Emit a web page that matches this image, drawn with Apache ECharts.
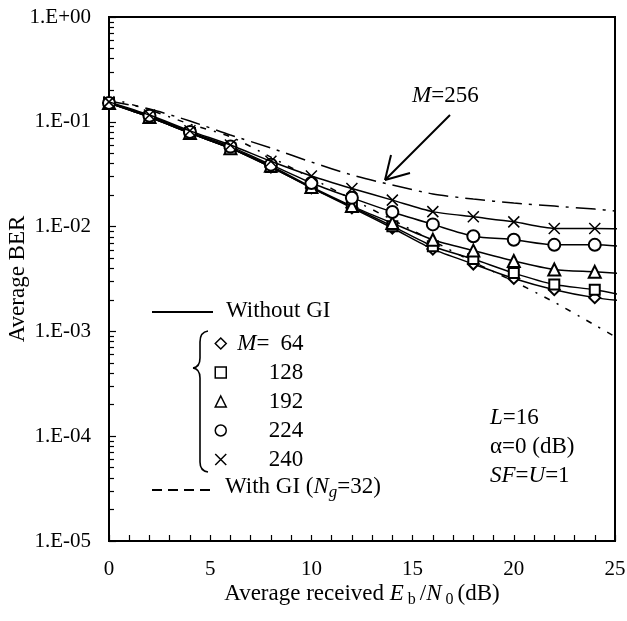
<!DOCTYPE html>
<html>
<head>
<meta charset="utf-8">
<script src="https://cdn.jsdelivr.net/npm/echarts@6/dist/echarts.min.js"></script>
<style>html,body{margin:0;padding:0;background:#fff;}#c{width:627px;height:621px;}</style>
</head>
<body>
<div id="c"></div>
<script>
// ---- data ----
const xMarked = [0, 2, 4, 6, 8, 10, 12, 14, 16, 18, 20, 22, 24, 26];
const ber64  = [0.151, 0.111, 0.078, 0.056, 0.037, 0.0234, 0.0151, 0.0097, 0.0061, 0.0044, 0.0032, 0.0025, 0.0021, 0.0019];
const ber128 = [0.151, 0.111, 0.078, 0.056, 0.037, 0.0234, 0.0154, 0.0101, 0.0065, 0.0049, 0.0036, 0.0028, 0.0025, 0.0021];
const ber192 = [0.151, 0.111, 0.078, 0.056, 0.038, 0.0239, 0.0157, 0.0108, 0.0075, 0.0059, 0.0047, 0.0039, 0.0037, 0.0035];
const ber224 = [0.151, 0.114, 0.080, 0.058, 0.039, 0.0261, 0.0188, 0.0138, 0.0105, 0.0081, 0.0075, 0.0067, 0.0067, 0.0063];
const ber240 = [0.155, 0.116, 0.082, 0.060, 0.042, 0.0304, 0.0231, 0.0179, 0.0139, 0.0124, 0.0111, 0.0096, 0.0096, 0.0095];
const xDash = [0, 2, 4, 6, 8, 10, 12, 14, 16, 18, 20, 22, 24, 25];
const ber256 = [0.158, 0.1325, 0.1018, 0.0748, 0.0562, 0.0413, 0.0311, 0.0249, 0.0205, 0.0183, 0.0168, 0.0157, 0.0147, 0.0141];
const berGI  = [0.169, 0.130, 0.095, 0.072, 0.046, 0.029, 0.0183, 0.0116, 0.0073, 0.0046, 0.0030, 0.0019, 0.00115, 0.00089];
const yDecades = [1e-5, 1e-4, 1e-3, 1e-2, 1e-1, 1];
const mLabels = ['64', '128', '192', '224', '240'];

const FONT = 'Liberation Serif';
const FS = 23;
const pairs = (xs, ys) => xs.map((x, i) => [x, ys[i]]);
const minorVals = [];
yDecades.slice(0, -1).forEach(d => { for (let k = 2; k <= 9; k++) minorVals.push(+(d * k).toPrecision(3)); });

const crossPath = 'path://M0,0L10,10M0,10L10,0';
const markers = ['emptyDiamond', 'emptyRect', 'emptyTriangle', 'emptyCircle', crossPath];
const sizes = [11, 10, 12, 12, 11];
const mData = [ber64, ber128, ber192, ber224, ber240];

const solidSeries = mData.map((d, i) => ({
  name: mLabels[i],
  type: 'line',
  data: pairs(xMarked, d),
  smooth: 0.25,
  symbol: markers[i],
  symbolSize: sizes[i],
  showSymbol: true,
  lineStyle: { color: '#000', width: 1.5 },
  itemStyle: { color: '#000', borderColor: '#000', borderWidth: 1.5 },
  z: 5 + i
}));

const richT = {
  n: { fontFamily: FONT, fontSize: FS, fill: '#000' },
  i: { fontFamily: FONT, fontSize: FS, fontStyle: 'italic', fill: '#000' }
};

const bz = (x1, y1, cx, cy, x2, y2) => ({ type: 'bezierCurve', shape: { x1, y1, cpx1: cx, cpy1: cy, x2, y2 }, style: { stroke: '#000', lineWidth: 1.6, fill: null } });
const ln = (x1, y1, x2, y2, w, dash) => ({ type: 'line', shape: { x1, y1, x2, y2 }, style: { stroke: '#000', lineWidth: w || 1.6, lineDash: dash || null } });

const option = {
  animation: false,
  backgroundColor: '#fff',
  textStyle: { fontFamily: FONT, color: '#000' },
  grid: { left: 109, top: 17, width: 506, height: 524, show: true, borderColor: '#000', borderWidth: 2, backgroundColor: 'transparent', containLabel: false, outerBoundsMode: 'none' },
  xAxis: [{
    type: 'value', min: 0, max: 25, interval: 5,
    axisLine: { lineStyle: { color: '#000', width: 2 } },
    axisTick: { inside: true, length: 6, lineStyle: { color: '#000', width: 1.2 } },
    minorTick: { show: true, splitNumber: 5, length: 6, lineStyle: { color: '#000', width: 1.2 } },
    splitLine: { show: false },
    axisLabel: { fontFamily: FONT, fontSize: 21, color: '#000', margin: 18 },
    name: '{n|Average received }{i|E}{s| b }{n|/}{i|N}{s| 0 }{n|(dB)}',
    nameLocation: 'middle', nameGap: 39, nameMoveOverlap: false,
    nameTextStyle: {
      fontFamily: FONT, color: '#000',
      rich: {
        n: { fontFamily: FONT, fontSize: FS, color: '#000', lineHeight: 28, verticalAlign: 'middle' },
        i: { fontFamily: FONT, fontSize: FS, fontStyle: 'italic', color: '#000', lineHeight: 28, verticalAlign: 'middle' },
        s: { fontFamily: FONT, fontSize: 16, color: '#000', lineHeight: 20, verticalAlign: 'bottom' }
      }
    }
  }],
  yAxis: [{
    type: 'log', logBase: 10, min: 1e-5, max: 1,
    axisLine: { lineStyle: { color: '#000', width: 2 } },
    axisTick: { inside: true, length: 7, lineStyle: { color: '#000', width: 1.2 } },
    splitLine: { show: false },
    axisLabel: {
      fontFamily: FONT, fontSize: 21, color: '#000', margin: 18,
      formatter: v => { const e = Math.round(Math.log10(v)); return '1.E' + (e >= 0 ? '+' : '-') + String(Math.abs(e)).padStart(2, '0'); }
    },
    name: 'Average BER', nameLocation: 'middle', nameGap: 80, nameMoveOverlap: false,
    nameTextStyle: { fontFamily: FONT, fontSize: FS, color: '#000' }
  }, {
    type: 'log', logBase: 10, min: 1e-5, max: 1, position: 'left',
    axisLine: { show: false },
    axisTick: { inside: true, length: 5, customValues: minorVals, lineStyle: { color: '#000', width: 1.2 } },
    axisLabel: { show: false },
    splitLine: { show: false }
  }],
  legend: {
    data: mLabels.map((n, i) => ({ name: n, icon: i === 4 ? crossPath : ['diamond', 'rect', 'triangle', 'circle'][i] })),
    orient: 'vertical', left: 214.5, top: 332, padding: 0,
    itemWidth: 11, itemHeight: 11, itemGap: 6,
    selectedMode: false,
    itemStyle: { color: '#fff', borderColor: '#000', borderWidth: 1.5 },
    formatter: name => name === '64' ? '{mi|M}{eq|=}{v|64}' : '{pad|}{v|' + name + '}',
    textStyle: {
      fontFamily: FONT, fontSize: FS, color: '#000', lineHeight: 20,
      rich: {
        mi: { fontFamily: FONT, fontSize: FS, fontStyle: 'italic', color: '#000', lineHeight: 20, padding: [0, 0, 0, 6] },
        eq: { fontFamily: FONT, fontSize: FS, color: '#000', lineHeight: 20, width: 13 },
        pad: { width: 38, lineHeight: 20 },
        v: { fontFamily: FONT, fontSize: FS, color: '#000', lineHeight: 20, width: 34, align: 'right' }
      }
    }
  },
  series: [
    {
      name: 'M=256', type: 'line', data: pairs(xDash, ber256), smooth: 0.25, showSymbol: false, symbol: 'none',
      lineStyle: { color: '#000', width: 1.5, type: [20, 7, 3, 7] }, z: 3
    },
    {
      name: 'With GI', type: 'line', data: pairs(xDash, berGI), smooth: 0.25, showSymbol: false, symbol: 'none',
      lineStyle: { color: '#000', width: 1.5, type: [6, 8, 2, 8] }, z: 3
    },
    ...solidSeries
  ],
  graphic: [
    ln(152, 312, 213, 312, 2),
    { type: 'text', left: 226, top: 299, style: { text: 'Without GI', font: FS + 'px "Liberation Serif"', fill: '#000' } },
    bz(208, 331, 200, 332, 200, 342),
    ln(200, 342, 200, 358),
    bz(200, 358, 200, 367, 193, 368),
    bz(193, 368, 200, 369, 200, 378),
    ln(200, 378, 200, 462),
    bz(200, 462, 200, 471, 208, 472),
    ln(152, 490, 215, 490, 2, [10, 6]),
    { type: 'text', left: 225, top: 475, style: {
        text: '{n|With GI (}{i|N}{s|g}{n|=32)}',
        rich: {
          n: { fontFamily: FONT, fontSize: FS, fill: '#000', lineHeight: 30, verticalAlign: 'middle' },
          i: { fontFamily: FONT, fontSize: FS, fontStyle: 'italic', fill: '#000', lineHeight: 30, verticalAlign: 'middle' },
          s: { fontFamily: FONT, fontSize: 17, fontStyle: 'italic', fill: '#000', lineHeight: 18, verticalAlign: 'bottom' }
        } } },
    { type: 'text', left: 412, top: 84, style: { text: '{i|M}{n|=256}', rich: richT } },
    ln(450, 115, 385, 180, 2),
    ln(385, 180, 391, 155, 2),
    ln(385, 180, 410, 173, 2),
    { type: 'text', left: 490, top: 406, style: { text: '{i|L}{n|=16}', rich: richT } },
    { type: 'text', left: 490, top: 435, style: { text: 'α=0 (dB)', font: FS + 'px "Liberation Serif"', fill: '#000' } },
    { type: 'text', left: 490, top: 464, style: { text: '{i|SF}{n|=}{i|U}{n|=1}', rich: richT } }
  ]
};

const chart = echarts.init(document.getElementById('c'), null, { renderer: 'canvas' });
chart.setOption(option);
</script>
</body>
</html>
